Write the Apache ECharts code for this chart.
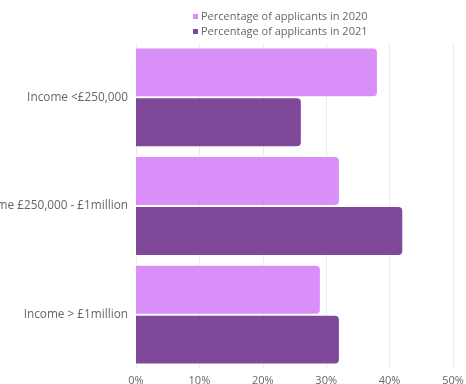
<!DOCTYPE html>
<html>
<head>
<meta charset="utf-8">
<script src="https://cdn.jsdelivr.net/npm/echarts@6/dist/echarts.min.js"></script>
<style>html,body{margin:0;padding:0;background:#fff;}#c{width:466px;height:384px;}</style>
</head>
<body>
<div id="c"></div>
<script>
var categories = ['Income <£250,000', 'Income £250,000 - £1million', 'Income > £1million'];
var seriesNames = ['Percentage of applicants in 2020', 'Percentage of applicants in 2021'];
var values2020 = [38, 32, 29];
var values2021 = [26, 42, 32];
var xTicks = [0, 10, 20, 30, 40, 50];

var chart = echarts.init(document.getElementById('c'), null, {renderer: 'canvas'});
var font = '"Open Sans", sans-serif';
chart.setOption({
  animation: false,
  textStyle: {fontFamily: font},
  legend: {
    orient: 'vertical',
    left: 188,
    top: 6,
    itemWidth: 5,
    itemHeight: 5,
    itemGap: 4,
    icon: 'rect',
    textStyle: {fontFamily: font, fontSize: 11, color: '#666', padding: [0, 0, 0, -2]},
    data: seriesNames
  },
  grid: {left: 136, right: 13, top: 43, bottom: 15, containLabel: false, outerBoundsMode: 'none'},
  xAxis: {
    type: 'value',
    min: xTicks[0],
    max: xTicks[xTicks.length - 1],
    interval: 10,
    axisLine: {show: false},
    axisTick: {show: false},
    splitLine: {show: true, lineStyle: {color: '#ececec', width: 1}},
    axisLabel: {formatter: '{value}%', fontFamily: font, fontSize: 11, color: '#666', margin: 6}
  },
  yAxis: {
    type: 'category',
    inverse: true,
    data: categories,
    axisLine: {show: false},
    axisTick: {show: false},
    axisLabel: {fontFamily: font, fontSize: 11.8, color: '#666', margin: 8, padding: [5, 0, 0, 0]}
  },
  series: [
    {
      name: seriesNames[0],
      type: 'bar',
      data: values2020,
      itemStyle: {color: '#d98ff7', borderRadius: [0, 4, 4, 0]},
      barGap: '4%',
      barCategoryGap: '10%'
    },
    {
      name: seriesNames[1],
      type: 'bar',
      data: values2021,
      itemStyle: {color: '#804898', borderRadius: [0, 4, 4, 0]},
      barGap: '4%',
      barCategoryGap: '10%'
    }
  ]
});
</script>
</body>
</html>
